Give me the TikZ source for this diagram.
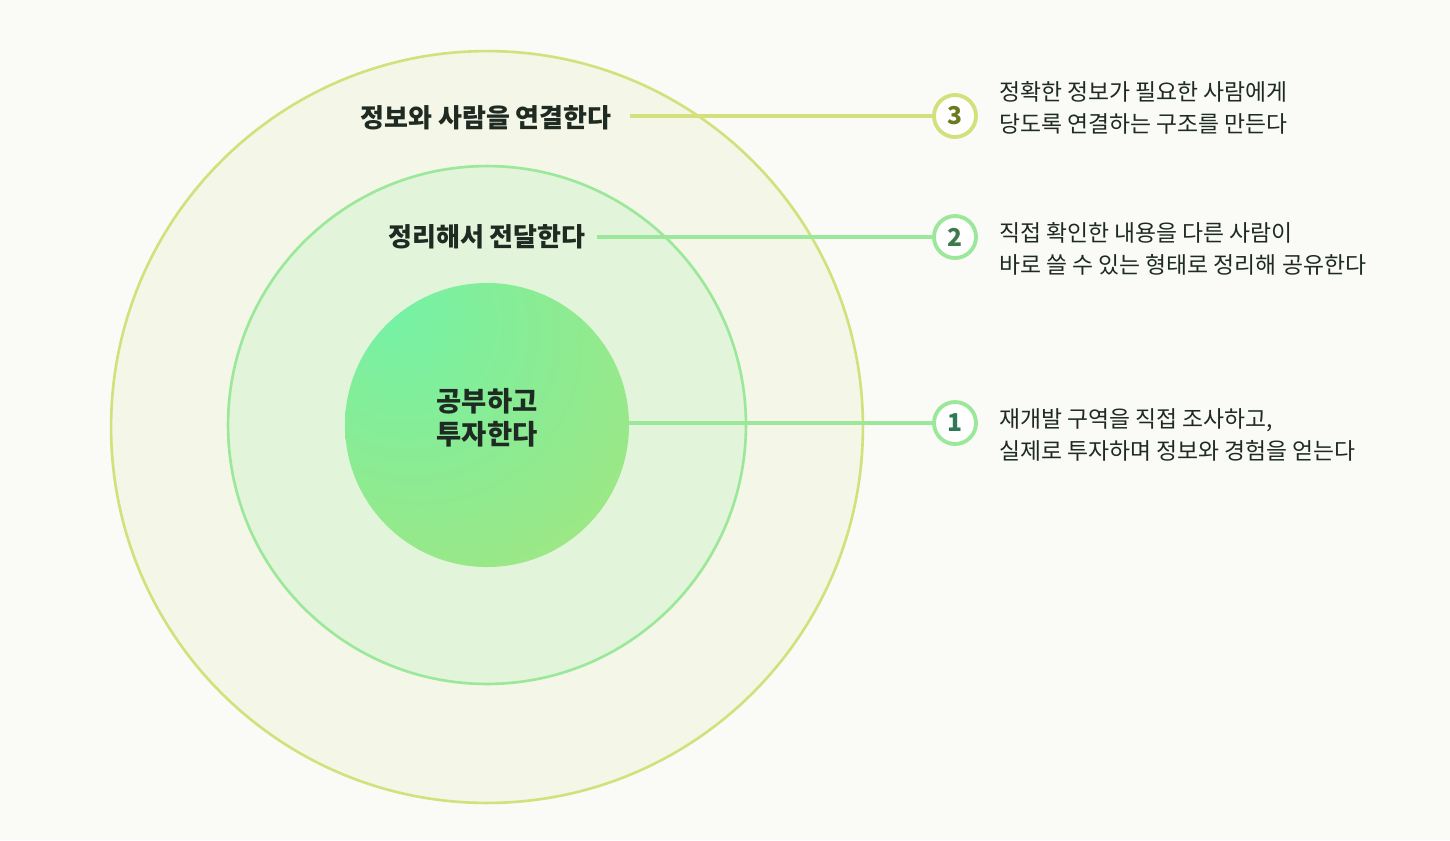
\documentclass[tikz,border=0pt]{standalone}
\usepackage{fontspec}
\setmainfont{Noto Sans CJK KR}
\definecolor{bgA}{HTML}{FAFBF6}
\definecolor{ostroke}{HTML}{D3E07C}
\definecolor{ofill}{HTML}{F4F7E7}
\definecolor{mstroke}{HTML}{9CE89A}
\definecolor{mfill}{HTML}{E2F4DA}
\definecolor{cA}{HTML}{74F2A6}
\definecolor{cB}{HTML}{98E888}
\definecolor{cC}{HTML}{CCE06A}
\definecolor{txt}{HTML}{1E2A22}
\definecolor{n3}{HTML}{6A7A1E}
\definecolor{n2}{HTML}{3E7A4C}
\definecolor{n1}{HTML}{2F7A56}
\pgfdeclareradialshading{ball}{\pgfpoint{-18bp}{22bp}}{color(0bp)=(cA); color(38bp)=(cB); color(72bp)=(cC); color(90bp)=(cC)}
\begin{document}
\begin{tikzpicture}[x=0.02cm,y=-0.02cm,
  lbl/.style={font=\bfseries\fontsize{14.8}{17}\selectfont,text=txt},
  desc/.style={font=\fontsize{13}{18.5}\selectfont,text=txt,align=left,anchor=west},
  num/.style={circle,draw=#1,line width=2.2pt,fill=white,minimum size=0.84cm,inner sep=0pt,font=\bfseries\fontsize{14}{16}\selectfont},
  conn/.style={line width=2.2pt,draw=#1}]
\fill[bgA] (0,0) rectangle (1450,840);
\node[circle,draw=ostroke,fill=ofill,line width=1.5pt,minimum size=15.04cm,inner sep=0pt] (outer) at (487,427) {};
\node[circle,draw=mstroke,fill=mfill,line width=1.5pt,minimum size=10.36cm,inner sep=0pt] (mid) at (487,425) {};
\shade[shading=ball] (487,425) circle[radius=142];
\node[circle,minimum size=5.68cm,inner sep=0pt] (inner) at (487,425) {};
\node[lbl,align=center,font=\bfseries\fontsize{15.6}{19}\selectfont] (t0) at (487,418) {공부하고\\투자한다};
\node[lbl] (t3) at (486,118) {정보와 사람을 연결한다};
\node[lbl] (t2) at (487,237) {정리해서 전달한다};
\node[num=ostroke,text=n3] (c3) at (955,116) {3};
\node[num=mstroke,text=n2] (c2) at (955,237) {2};
\node[num=mstroke,text=n1] (c1) at (955,423) {1};
\coordinate (s3) at (630,116);
\coordinate (s2) at (597,237);
\draw[conn=ostroke] (s3) -- (c3);
\draw[conn=mstroke] (s2) -- (c2);
\draw[conn=mstroke] (inner.east |- c1) -- (c1);
\node[desc] (d3) at (993,108) {정확한 정보가 필요한 사람에게\\당도록 연결하는 구조를 만든다};
\node[desc] (d2) at (993,249) {직접 확인한 내용을 다른 사람이\\바로 쓸 수 있는 형태로 정리해 공유한다};
\node[desc] (d1) at (993,435) {재개발 구역을 직접 조사하고,\\실제로 투자하며 정보와 경험을 얻는다};
\end{tikzpicture}
\end{document}
